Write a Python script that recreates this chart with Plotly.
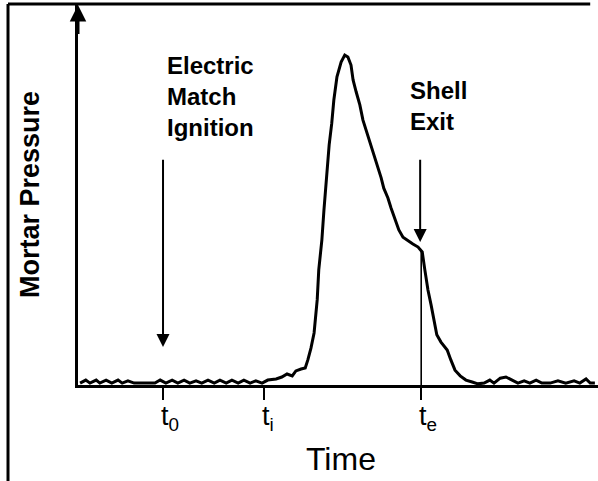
import plotly.graph_objects as go

# Time (arbitrary units, 0-100) and mortar pressure (% of axis height, 0-100)
time = [0.4, 1.5, 2.3, 3.5, 4.2, 5.4, 6.5, 7.7, 8.5, 9.6, 10.8, 13.5, 14.8, 15.8, 16.9,
        18.1, 19.2, 20.4, 21.5, 22.7, 23.8, 25.0, 26.2, 27.3, 28.5, 29.6, 30.8, 31.9,
        33.1, 34.2, 35.4, 36.5, 38.1, 39.2, 40.2, 41.2, 41.9, 42.9, 43.7, 44.2, 44.8,
        45.4, 46.0, 46.3, 46.9, 47.3, 47.9, 48.3, 48.8, 49.2, 49.8, 50.6, 51.3, 51.9,
        52.5, 52.9, 53.5, 54.2, 54.8, 55.6, 56.2, 56.9, 57.5, 58.3, 58.8, 59.6, 60.2,
        61.0, 61.7, 62.5, 63.5, 64.4, 65.4, 66.2, 66.7, 67.3, 67.9, 68.5, 69.0, 69.8,
        71.0, 71.7, 72.5, 73.5, 74.6, 75.8, 76.9, 78.1, 79.2, 80.0, 81.2, 82.3, 83.5,
        84.6, 85.8, 86.9, 88.1, 89.2, 90.8, 92.3, 93.8, 95.4, 96.5, 97.7, 98.5, 99.4]
pressure = [0.5, 1.3, 0.5, 1.3, 0.5, 1.3, 0.5, 1.3, 0.5, 1.1, 0.5, 0.5, 0.5, 1.3, 0.5,
            1.3, 0.5, 1.3, 0.5, 1.1, 0.5, 1.3, 0.5, 1.3, 0.5, 1.3, 0.5, 1.3,
            0.5, 1.1, 0.5, 1.3, 1.6, 2.1, 2.9, 2.4, 3.7, 4.2, 4.5, 6.6, 9.7,
            13.7, 22.4, 30.3, 38.2, 46.1, 55.8, 63.2, 68.9, 75.0, 81.1, 85.0, 86.8, 86.3,
            84.2, 80.3, 77.1, 73.7, 69.7, 66.3, 63.2, 60.5, 57.9, 54.5, 51.8, 49.2, 46.6,
            43.4, 40.8, 38.9, 37.9, 37.1, 36.3, 35.0, 30.3, 25.0, 21.1, 17.1, 13.2, 11.3,
            9.2, 6.6, 3.9, 2.4, 1.3, 0.8, 0.3, 0.5, 1.3, 0.5, 1.8, 2.1, 1.3,
            0.5, 1.1, 0.5, 1.3, 0.5, 0.5, 1.1, 0.5, 1.1, 0.5, 1.6, 0.5, 0.5]

tick_vals = [16.35, 35.8, 66.0]
tick_base = ["t", "t", "t"]
tick_sub = ["0", "i", "e"]
te_pressure = 35.3
ign_arrow = (59.7, 10.0)     # start, tip (pressure units)
exit_arrow = (59.7, 37.6)

FONT = "Liberation Sans, Arial, sans-serif"

fig = go.Figure()
fig.add_trace(go.Scatter(x=time, y=pressure, mode="lines",
                         line=dict(color="black", width=3), hoverinfo="skip"))

# thin vertical line at shell exit
fig.add_shape(type="line", xref="x", yref="y", x0=tick_vals[2], x1=tick_vals[2],
              y0=0, y1=te_pressure, line=dict(color="black", width=1.6))

annotations = [
    # y-axis arrowhead
    dict(x=0, y=100, ax=0, ay=92, xref="x", yref="y", axref="x", ayref="y",
         showarrow=True, arrowhead=2, arrowsize=1.1, arrowwidth=3, arrowcolor="black", text=""),
    # ignition arrow
    dict(x=tick_vals[0], y=ign_arrow[1], ax=tick_vals[0], ay=ign_arrow[0],
         xref="x", yref="y", axref="x", ayref="y", showarrow=True, arrowhead=2,
         arrowsize=1.3, arrowwidth=2, arrowcolor="black", text=""),
    # shell exit arrow
    dict(x=65.8, y=exit_arrow[1], ax=65.8, ay=exit_arrow[0],
         xref="x", yref="y", axref="x", ayref="y", showarrow=True, arrowhead=2,
         arrowsize=1.3, arrowwidth=2, arrowcolor="black", text=""),
    dict(x=16.7, y=88.2, xref="x", yref="y", xanchor="left", yanchor="top",
         align="left", showarrow=False, text="<b>Electric<br>Match<br>Ignition</b>",
         font=dict(family=FONT, size=24, color="black")),
    dict(x=63.5, y=81.6, xref="x", yref="y", xanchor="left", yanchor="top",
         align="left", showarrow=False, text="<b>Shell<br>Exit</b>",
         font=dict(family=FONT, size=24, color="black")),
    dict(x=-0.0923, y=50, xref="paper", yref="y", xanchor="center", yanchor="middle",
         textangle=-90, showarrow=False, text="<b>Mortar Pressure</b>",
         font=dict(family=FONT, size=27, color="black")),
    dict(x=50.6, y=-0.195, xref="x", yref="paper", xanchor="center", yanchor="middle",
         showarrow=False, text="Time", font=dict(family=FONT, size=32, color="black")),
]

# tick labels (t with a subscript)
for tv, b, s in zip(tick_vals, tick_base, tick_sub):
    annotations.append(dict(
        x=tv, y=-0.087, xref="x", yref="paper", xanchor="left", xshift=-4,
        yanchor="middle", showarrow=False,
        text=f"{b}<sub>{s}</sub>",
        font=dict(family=FONT, size=27, color="black")))

shapes_border = [
    dict(type="line", xref="paper", yref="paper", x0=-0.1346, x1=-0.1346,
         y0=-0.26, y1=1.0026, line=dict(color="black", width=3)),
    dict(type="line", xref="paper", yref="paper", x0=-0.1346, x1=0.985,
         y0=1.0026, y1=1.0026, line=dict(color="black", width=3)),
]
for s in shapes_border:
    fig.add_shape(**s)

fig.update_layout(
    width=598, height=481,
    margin=dict(l=78, r=0, t=5, b=96),
    paper_bgcolor="white", plot_bgcolor="white",
    showlegend=False,
    annotations=annotations,
    xaxis=dict(range=[0, 100], showgrid=False, zeroline=False, showline=True,
               linecolor="black", linewidth=3, ticks="outside", ticklen=12,
               tickwidth=2, tickcolor="black", tickvals=tick_vals,
               showticklabels=False, fixedrange=True),
    yaxis=dict(range=[0, 100], showgrid=False, zeroline=False, showline=True,
               linecolor="black", linewidth=3, showticklabels=False, ticks="",
               fixedrange=True),
)

fig.write_html("out.html")
